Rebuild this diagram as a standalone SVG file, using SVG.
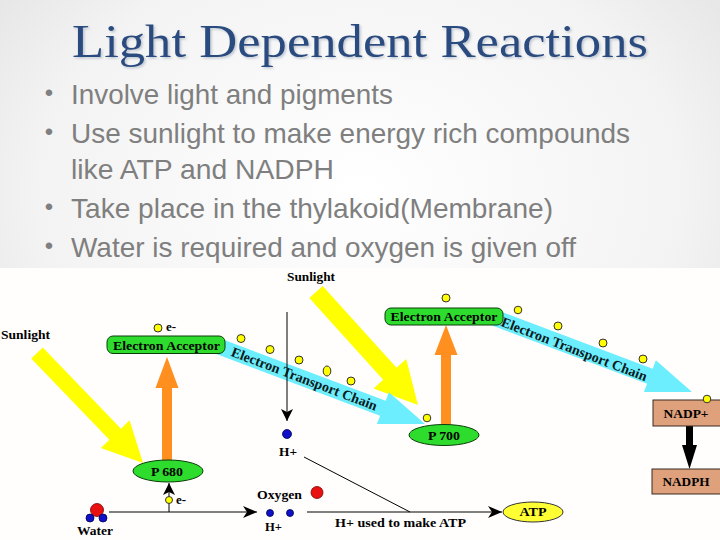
<svg xmlns="http://www.w3.org/2000/svg" width="720" height="540" viewBox="0 0 720 540">
<defs>
<radialGradient id="bg" cx="50%" cy="35%" r="75%">
<stop offset="0" stop-color="#ffffff"/>
<stop offset="0.6" stop-color="#f3f3f3"/>
<stop offset="1" stop-color="#dcdcdc"/>
</radialGradient>
<filter id="shadow" x="-5%" y="-20%" width="110%" height="140%">
<feDropShadow dx="1.5" dy="1.5" stdDeviation="1" flood-color="#9aa6b8" flood-opacity="0.6"/>
</filter>
<marker id="ah" viewBox="0 0 14 12" refX="14" refY="6" markerWidth="14" markerHeight="12" markerUnits="userSpaceOnUse" orient="auto">
<path d="M0,0 L14,6 L0,12 L4,6 z" fill="#000"/>
</marker>
<marker id="ahs" viewBox="0 0 12 12" refX="12" refY="6" markerWidth="12" markerHeight="12" markerUnits="userSpaceOnUse" orient="auto">
<path d="M0,0 L12,6 L0,12 L3,6 z" fill="#000"/>
</marker>
<style>
.title{font-family:"Liberation Serif","Times New Roman",serif;font-size:46px;fill:#2c4c80}
.bul{font-family:"Liberation Sans",Arial,sans-serif;font-size:28px;fill:#7f7f7f}
.dot{font-family:"Liberation Sans",Arial,sans-serif;font-size:24px;fill:#7f7f7f;text-anchor:middle}
.lbl{font-family:"Liberation Serif","Times New Roman",serif;font-weight:bold;font-size:13px;fill:#000}
.ctr{text-anchor:middle}
.etc{font-family:"Liberation Serif","Times New Roman",serif;font-weight:bold;font-size:14px;fill:#0a1a1a}
.green{fill:#2edc2e;stroke:#0b3d0b;stroke-width:1}
.box{fill:#dfa07c;stroke:#3a2a20;stroke-width:1}
.edot{fill:#ffff00;stroke:#333;stroke-width:1}
.hdot{fill:#1010c8;stroke:#000050;stroke-width:0.8}
.odot{fill:#e81010;stroke:#700;stroke-width:0.8}
.line{stroke:#000;stroke-width:1;fill:none}
.sun{fill:#ffff00}
.cyan{fill:#6ceeff}
.orange{fill:#ff8f1f}
</style>
</defs>

<rect x="0" y="0" width="720" height="540" fill="url(#bg)"/>

<g id="title">
<text class="title ctr" x="360" y="57" textLength="576" lengthAdjust="spacingAndGlyphs" filter="url(#shadow)">Light Dependent Reactions</text>
</g>

<g id="bullets">
<text class="dot" x="49" y="101">•</text>
<text class="bul" x="71" y="104" textLength="322" lengthAdjust="spacingAndGlyphs">Involve light and pigments</text>
<text class="dot" x="49" y="140">•</text>
<text class="bul" x="71" y="143" textLength="559" lengthAdjust="spacingAndGlyphs">Use sunlight to make energy rich compounds</text>
<text class="bul" x="71" y="179" textLength="263" lengthAdjust="spacingAndGlyphs">like ATP and NADPH</text>
<text class="dot" x="49" y="215">•</text>
<text class="bul" x="71" y="218" textLength="482" lengthAdjust="spacingAndGlyphs">Take place in the thylakoid(Membrane)</text>
<text class="dot" x="49" y="254">•</text>
<text class="bul" x="71" y="257" textLength="505" lengthAdjust="spacingAndGlyphs">Water is required and oxygen is given off</text>
</g>

<rect x="0" y="268" width="720" height="272" fill="#fffefc"/>

<g id="connectors">
<polygon class="sun" points="31.2,358.6 109.4,439.8 100.8,448.1 143,463 129.6,420.3 121,428.7 42.8,347.5"/>
<polygon class="sun" points="309.3,298 383.2,379.8 373.6,388.5 418,405 406.2,359.1 396.6,367.8 322.7,286"/>
<polygon class="cyan" points="212.2,352.5 380.1,415.7 376.9,424.1 425,424 388.9,392.3 385.7,400.7 217.8,337.5"/>
<polygon class="cyan" points="492.2,325.5 647.1,383.7 643.9,392.1 692,392 655.9,360.3 652.7,368.7 497.8,310.5"/>
<polygon class="orange" points="162,461 162,388 155.5,388 167,357 178.5,388 172,388 172,461"/>
<polygon class="orange" points="441,427 441,355 434.5,355 446,325 457.5,355 451,355 451,427"/>
<polygon fill="#000" points="686,426 693,426 693,445 697,445 689.5,469 682,445 686,445"/>
<line class="line" x1="287" y1="312" x2="287" y2="421" marker-end="url(#ahs)"/>
<line class="line" x1="109" y1="512" x2="257" y2="512" marker-end="url(#ah)"/>
<line class="line" x1="169" y1="512" x2="169" y2="483" marker-end="url(#ahs)"/>
<line class="line" x1="304" y1="457" x2="410" y2="512"/>
<line class="line" x1="307" y1="512" x2="502" y2="512" marker-end="url(#ah)"/>
</g>

<g id="etc-labels">
<text class="etc" transform="translate(232,351) rotate(20.8)" x="0" y="5" textLength="155" lengthAdjust="spacingAndGlyphs">Electron Transport Chain</text>
<text class="etc" transform="translate(502,321) rotate(21)" x="0" y="5" textLength="155" lengthAdjust="spacingAndGlyphs">Electron Transport Chain</text>
</g>

<g id="sunlight-top"><text class="lbl" x="287" y="281" textLength="48" lengthAdjust="spacingAndGlyphs">Sunlight</text></g>
<g id="sunlight-left"><text class="lbl" x="1" y="339" textLength="49" lengthAdjust="spacingAndGlyphs">Sunlight</text></g>

<g id="acceptor-left">
<rect class="green" x="107" y="336" width="118" height="17.5" rx="6"/>
<text class="lbl ctr" x="166.5" y="349.5" textLength="107" lengthAdjust="spacingAndGlyphs">Electron Acceptor</text>
</g>
<g id="acceptor-right">
<rect class="green" x="385" y="308" width="118" height="17" rx="6"/>
<text class="lbl ctr" x="444" y="321" textLength="107" lengthAdjust="spacingAndGlyphs">Electron Acceptor</text>
</g>

<g id="p680">
<ellipse class="green" cx="168" cy="471" rx="35" ry="11"/>
<text class="lbl ctr" x="167" y="475.5" textLength="32" lengthAdjust="spacingAndGlyphs">P 680</text>
</g>
<g id="p700">
<ellipse class="green" cx="444" cy="435" rx="35" ry="10.5"/>
<text class="lbl ctr" x="444" y="440" textLength="32" lengthAdjust="spacingAndGlyphs">P 700</text>
</g>

<g id="nadp-plus">
<rect class="box" x="653" y="400" width="68" height="26"/>
<text class="lbl ctr" x="686" y="417.5" textLength="45" lengthAdjust="spacingAndGlyphs">NADP+</text>
</g>
<g id="nadph">
<rect class="box" x="652" y="469" width="69" height="25"/>
<text class="lbl ctr" x="686" y="486" textLength="47" lengthAdjust="spacingAndGlyphs">NADPH</text>
</g>

<g id="atp">
<ellipse cx="533" cy="512" rx="30" ry="10" fill="#ffff33" stroke="#333" stroke-width="1"/>
<text class="lbl ctr" x="533" y="516" textLength="27" lengthAdjust="spacingAndGlyphs">ATP</text>
</g>

<g id="water">
<circle class="odot" cx="97" cy="510" r="6.5"/>
<circle class="hdot" cx="90" cy="518" r="4"/>
<circle class="hdot" cx="103" cy="518" r="4"/>
<text class="lbl ctr" x="95" y="535" textLength="36" lengthAdjust="spacingAndGlyphs">Water</text>
</g>

<g id="oxygen">
<text class="lbl ctr" x="279.5" y="499" textLength="45" lengthAdjust="spacingAndGlyphs">Oxygen</text>
<circle class="odot" cx="317" cy="492.5" r="6"/>
<circle class="hdot" cx="270" cy="513" r="3.5"/>
<circle class="hdot" cx="290" cy="513" r="3.5"/>
<text class="lbl ctr" x="273.5" y="531" textLength="17" lengthAdjust="spacingAndGlyphs">H+</text>
</g>

<g id="h-plus-top">
<circle class="hdot" cx="287" cy="434" r="4.5"/>
<text class="lbl ctr" x="288" y="456" textLength="18" lengthAdjust="spacingAndGlyphs">H+</text>
</g>

<g id="atp-label">
<text class="lbl ctr" x="400.5" y="527" textLength="131" lengthAdjust="spacingAndGlyphs">H+ used to make ATP</text>
</g>

<g id="electrons">
<circle class="edot" cx="158" cy="328" r="4"/>
<text class="lbl" x="166" y="331">e-</text>
<circle class="edot" cx="169" cy="500" r="3.5"/>
<text class="lbl" x="176" y="504">e-</text>
<circle class="edot" cx="241" cy="338.5" r="4"/>
<circle class="edot" cx="270" cy="349.5" r="4"/>
<circle class="edot" cx="299" cy="360" r="4"/>
<ellipse class="edot" cx="327" cy="371" rx="3.8" ry="5"/>
<circle class="edot" cx="351" cy="381" r="4"/>
<circle class="edot" cx="427" cy="418" r="3.8"/>
<circle class="edot" cx="446" cy="298" r="4"/>
<circle class="edot" cx="518" cy="310" r="3.8"/>
<circle class="edot" cx="558" cy="326" r="4"/>
<circle class="edot" cx="603" cy="343" r="4"/>
<circle class="edot" cx="643" cy="359" r="4"/>
<circle class="edot" cx="707" cy="399" r="3.8"/>
</g>
</svg>
